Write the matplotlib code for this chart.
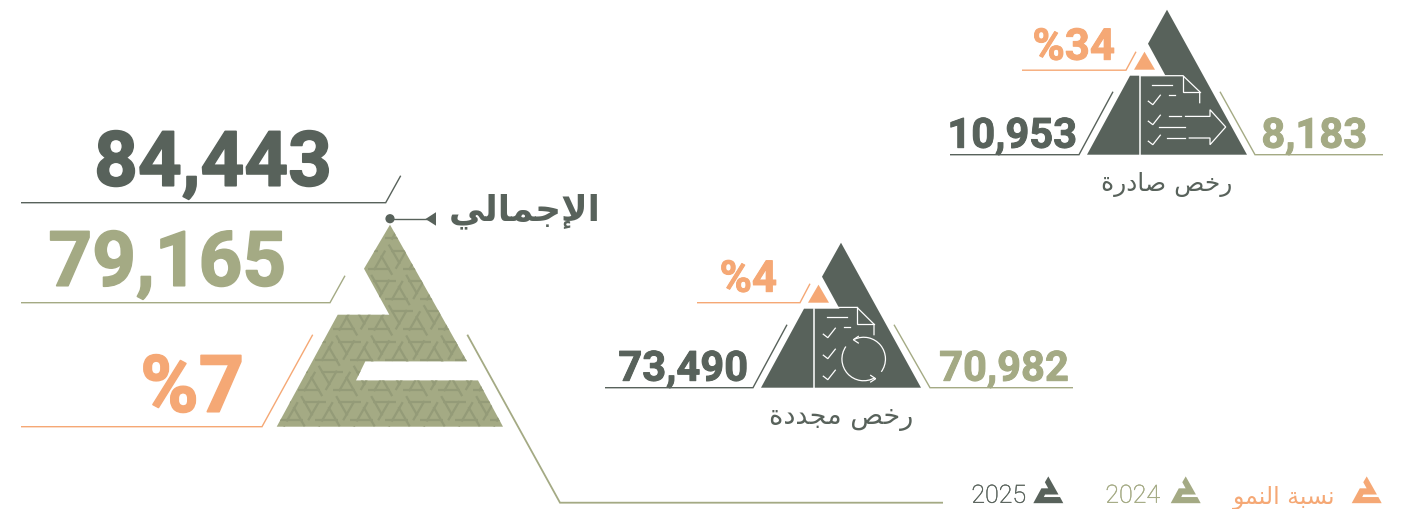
import numpy as np
import matplotlib
matplotlib.use("Agg")
import matplotlib.pyplot as plt
import matplotlib.patheffects as pe
from matplotlib.patches import Polygon, Circle, Arc

DARK = "#58625b"
OLIVE = "#a4aa84"
OLIVE_DK = "#949b78"
ORANGE = "#f5a875"

# values
total_2025 = 84443
total_2024 = 79165
total_growth = 7
issued_2025 = 10953
issued_2024 = 8183
issued_growth = 34
renewed_2025 = 73490
renewed_2024 = 70982
renewed_growth = 4
legend_years = ["2025", "2024"]

# arabic as presentation forms, logical order (matplotlib does no shaping)
label_total = "\ufe8d\ufef9\ufe9f\ufee4\ufe8e\ufedf\ufef2"
label_issued = "\ufead\ufea7\ufeba \ufebb\ufe8e\ufea9\ufead\ufe93"
label_renewed = "\ufead\ufea7\ufeba \ufee3\ufea0\ufeaa\ufea9\ufe93"
label_growth = "\ufee7\ufeb4\ufe92\ufe94 \ufe8d\ufedf\ufee8\ufee4\ufeee"

# logo outline, in picture pixels of the big triangle
logo = np.array([
    (390, 225), (364, 269), (389.3, 315), (337.7, 315), (276.7, 427),
    (503, 427), (478, 380.7), (356, 380.7), (365.3, 361.7), (467, 361.7),
])

fig = plt.figure(figsize=(14.01, 5.1), dpi=100)
ax = fig.add_axes([0, 0, 1, 1])
ax.set_xlim(0, 1401)
ax.set_ylim(509.3, -0.7)
ax.axis("off")


def num(x, y, s, color, size, stroke=0.7):
    t = ax.text(x, y, s, color=color, fontsize=size, family="Roboto",
                weight="bold", ha="right", va="baseline")
    t.set_path_effects([pe.withStroke(linewidth=stroke, foreground=color)])


def arabic(x, y, s, color, size, weight="normal", ha="center"):
    ax.text(x, y, s[::-1], color=color, fontsize=size, family="DejaVu Sans",
            weight=weight, ha=ha, va="baseline")


def line(pts, color, lw=1.0):
    pts = np.array(pts)
    ax.plot(pts[:, 0], pts[:, 1], color=color, lw=lw, solid_capstyle="butt",
            solid_joinstyle="miter")


def white(pts, dx, dy, lw=0.9):
    pts = np.array(pts, dtype=float) + (dx, dy)
    ax.plot(pts[:, 0], pts[:, 1], color="white", lw=lw, solid_joinstyle="miter")


def small_triangle(dx, dy):
    shape = [(1167, 10), (1148, 44), (1165.5, 76), (1130, 76), (1087, 155), (1247, 155)]
    ax.add_patch(Polygon(np.array(shape) + (dx, dy), fc=DARK, ec="none"))
    tri = [(1144.5, 52), (1134, 70), (1155, 70)]
    ax.add_patch(Polygon(np.array(tri) + (dx, dy), fc=ORANGE, ec="none"))
    white([(1139.5, 76), (1139.5, 155)], dx, dy, 1.1)


def checks(dx, dy, rows):
    for y in rows:
        white([(0, 3.5), (4.5, 7), (12, -2.5)], dx, dy + y)


# pattern inside the big triangle
body = Polygon(logo, fc=OLIVE, ec="none")
ax.add_patch(body)
side = 35.0
row_h = side * np.sqrt(3) / 2
for r in range(-1, 9):
    y0 = 426.7 - r * row_h
    for k in range(-2, 14):
        x0 = 276.7 + k * side + (r % 2) * side / 2
        up = np.array([(x0, y0), (x0 + side, y0), (x0 + side / 2, y0 - row_h)])
        down = np.array([(x0 + side / 2, y0 - row_h), (x0 + side, y0),
                         (x0 + 1.5 * side, y0 - row_h)])
        for tri in (up, down):
            for i in range(3):
                a, b, c = tri[i], tri[(i + 1) % 3], tri[(i + 2) % 3]
                p = a + 0.2 * (c - a)
                q = b + 0.2 * (c - b)
                seg, = ax.plot([p[0], p[0] + 0.8 * (q - p)[0]], [p[1], p[1] + 0.8 * (q - p)[1]],
                               color=OLIVE_DK, lw=1.6, solid_capstyle="butt")
                seg.set_clip_path(body)

# big group on the left
num(332, 186, f"{total_2025:,}", DARK, 55, 1.2)
num(286, 286, f"{total_2024:,}", OLIVE, 55, 1.2)
num(244, 412, f"%{total_growth}", ORANGE, 57, 1.2)
line([(400.7, 176), (385.7, 203), (21, 203)], DARK)
line([(345, 276), (330, 303), (21, 303)], OLIVE)
line([(312.7, 335), (262, 427), (21, 427)], ORANGE)
line([(467.3, 335), (560, 503), (943, 503)], OLIVE, 1.3)
ax.add_patch(Circle((390, 219), 4.6, fc=DARK, ec="none"))
line([(390, 219), (428, 219)], DARK)
ax.add_patch(Polygon([(425.5, 219.3), (436, 212.5), (436, 226)], fc=DARK, ec="none"))
arabic(601, 220, label_total, DARK, 25.8, weight="bold", ha="right")

# issued licences
small_triangle(0, 0)
num(1077, 148, f"{issued_2025:,}", DARK, 30)
num(1367, 148, f"{issued_2024:,}", OLIVE, 30)
num(1115, 60, f"%{issued_growth}", ORANGE, 31.5)
line([(1113, 92), (1079, 155), (950, 155)], DARK)
line([(1220, 92), (1255, 155), (1383, 155)], OLIVE)
line([(1136, 52), (1126, 70.5), (1022, 70.5)], ORANGE)
arabic(1167, 190, label_issued, DARK, 18)
white([(1140, 76), (1183, 76), (1199.7, 92), (1199.7, 103)], 0, 0)
white([(1183, 76), (1183, 92), (1199.7, 92)], 0, 0)
white([(1152, 85), (1172, 85)], 0, 0)
white([(1169, 95), (1175, 95)], 0, 0)
checks(1148.3, 0, [98, 118, 138])
white([(1168.5, 116.7), (1181, 116.7)], 0, 0)
white([(1185.5, 116.7), (1210, 116.7), (1210, 110), (1225.7, 127.3), (1210, 145),
       (1210, 138.3), (1189.3, 138.3)], 0, 0)
white([(1167.3, 138.3), (1185, 138.3)], 0, 0)
white([(1159.3, 127.3), (1185, 127.3)], 0, 0)

# renewed licences
small_triangle(-326, 233)
num(748, 381, f"{renewed_2025:,}", DARK, 30)
num(1069, 381, f"{renewed_2024:,}", OLIVE, 30)
num(777, 292, f"%{renewed_growth}", ORANGE, 31.5)
line([(787, 325), (753, 388), (605, 388)], DARK)
line([(894, 325), (930, 388), (1073, 388)], OLIVE)
line([(810, 284), (800, 303), (697, 303)], ORANGE)
arabic(841, 423, label_renewed, DARK, 19.5)
white([(814, 307.7), (857, 307.7), (874, 324.5), (874, 335)], 0, 0)
white([(857, 307.7), (857, 324.5), (874, 324.5)], 0, 0)
white([(827, 317), (847, 317)], 0, 0)
white([(843.5, 327), (849.5, 327)], 0, 0)
checks(823.3, 0, [331, 352, 373])
# y axis runs downwards, so these angles go clockwise on screen
for start, stop in ((245, 396), (60, 215)):
    ax.add_patch(Arc((863.7, 359.3), 43.5, 43.5, theta1=start, theta2=stop,
                     color="white", lw=0.9))
white([(858.3, 336.7), (853.3, 340), (858.3, 343.3)], 0, 0)
white([(870.7, 375.7), (875.7, 379), (870.7, 382.3)], 0, 0)

# legend, the same logo made small
for x0, color in ((1033.3, DARK), (1170.7, OLIVE), (1351.7, ORANGE)):
    scale = 30 / (503 - 276.7)
    pts = (logo - (276.7, 225)) * scale + (x0, 476.7)
    ax.add_patch(Polygon(pts, fc=color, ec="none"))
for x, year, color in ((1026, legend_years[0], DARK), (1160, legend_years[1], OLIVE)):
    t = ax.text(x, 503, year, color=color, fontsize=18, family="Roboto", weight="light",
                ha="right", va="baseline")
    t.set_path_effects([pe.withStroke(linewidth=0.3, foreground=color)])
arabic(1335, 503, label_growth, ORANGE, 17, ha="right")

fig.savefig("out.png", dpi=100)
